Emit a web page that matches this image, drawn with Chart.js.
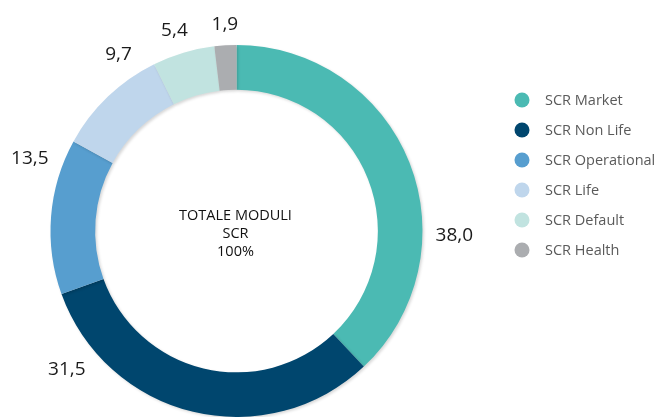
<!DOCTYPE html>
<html>
<head>
<meta charset="utf-8">
<script src="https://cdn.jsdelivr.net/npm/chart.js@4"></script>
<style>
  html, body { margin: 0; padding: 0; background: #fff; }
  #wrap { width: 657px; height: 417px; position: relative; }
</style>
</head>
<body>
<div id="wrap"><canvas id="scrChart"></canvas></div>
<script>
const categories = ["SCR Market", "SCR Non Life", "SCR Operational", "SCR Life", "SCR Default", "SCR Health"];
const values = [38.0, 31.5, 13.5, 9.7, 5.4, 1.9];
const valueLabels = ["38,0", "31,5", "13,5", "9,7", "5,4", "1,9"];
const centerLines = ["TOTALE MODULI", "SCR", "100%"];
const colors = ["#4bbab3", "#00466e", "#579ecf", "#bfd6ec", "#c1e3e0", "#abadb0"];

// where along each slice the outside label sits (0 = start, 1 = end)
const labelPos = [0.665, 0.83, 0.81, 0.79, 0.47, 0.53];

const FONT = "'Open Sans', sans-serif";

const ringShadow = {
  id: "ringShadow",
  beforeDatasetDraw(chart) {
    const ctx = chart.ctx;
    ctx.save();
    ctx.shadowColor = "rgba(0,0,0,0.16)";
    ctx.shadowBlur = 3;
    ctx.shadowOffsetX = 1.5;
    ctx.shadowOffsetY = 1.5;
  },
  afterDatasetDraw(chart) {
    chart.ctx.restore();
  },
};

const outsideLabels = {
  id: "outsideLabels",
  afterDatasetsDraw(chart) {
    const ctx = chart.ctx;
    const arcs = chart.getDatasetMeta(0).data;
    ctx.save();
    ctx.font = "19px " + FONT;
    ctx.fillStyle = "#1a1a1a";
    ctx.textAlign = "center";
    ctx.textBaseline = "middle";
    arcs.forEach((arc, i) => {
      const a = arc.startAngle + labelPos[i] * (arc.endAngle - arc.startAngle);
      const cos = Math.cos(a), sin = Math.sin(a);
      const w = ctx.measureText(valueLabels[i]).width;
      const ext = Math.abs(cos) * w / 2 + Math.abs(sin) * 8;
      const r = arc.outerRadius + 13 + ext;
      ctx.fillText(valueLabels[i], arc.x + cos * r, arc.y + sin * r + 1);
    });

    // centre text
    const c = arcs[0];
    ctx.font = "14.5px " + FONT;
    ctx.fillStyle = "#111";
    centerLines.forEach((t, k) => {
      ctx.fillText(t, c.x - 1, c.y - 15 + k * 18);
    });
    ctx.restore();
  },
};

const sideLegend = {
  id: "sideLegend",
  afterDraw(chart) {
    const ctx = chart.ctx;
    ctx.save();
    ctx.font = "14.5px " + FONT;
    ctx.textBaseline = "middle";
    ctx.textAlign = "left";
    chart.data.labels.forEach((lab, i) => {
      const y = 100 + i * 30;
      ctx.beginPath();
      ctx.arc(522, y, 7.5, 0, Math.PI * 2);
      ctx.fillStyle = colors[i];
      ctx.fill();
      ctx.fillStyle = "#5a5a5a";
      ctx.fillText(lab, 545, y + 1);
    });
    ctx.restore();
  },
};

new Chart(document.getElementById("scrChart"), {
  type: "doughnut",
  data: {
    labels: categories,
    datasets: [
      {
        data: values,
        backgroundColor: colors,
        borderWidth: 0,
      },
    ],
  },
  options: {
    responsive: true,
    maintainAspectRatio: false,
    animation: false,
    cutout: "76%",
    layout: {
      padding: { top: 45, left: 50, right: 234, bottom: 0 },
    },
    plugins: {
      legend: { display: false },
      tooltip: { enabled: false },
    },
  },
  plugins: [ringShadow, outsideLabels, sideLegend],
});
</script>
</body>
</html>
